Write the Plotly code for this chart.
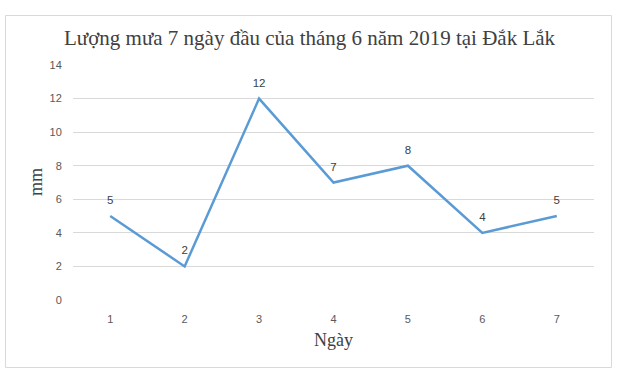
import plotly.graph_objects as go

days = ["1", "2", "3", "4", "5", "6", "7"]
rain_mm = [5, 2, 12, 7, 8, 4, 5]
y_ticks = [0, 2, 4, 6, 8, 10, 12, 14]
title_text = "Lượng mưa 7 ngày đầu của tháng 6 năm 2019 tại Đắk Lắk"
x_title = "Ngày"
y_title = "mm"

W, H = 641, 371
L, R, T, B = 73, 47, 65, 71
pw, ph = W - L - R, H - T - B

def px(x):
    return (x - L) / pw

def py(y):
    return (H - B - y) / ph

fig = go.Figure()
fig.add_trace(go.Scatter(
    x=days, y=rain_mm, mode="lines+markers+text",
    text=[str(v) for v in rain_mm], textposition="top center",
    textfont=dict(family="Liberation Sans", size=11.5, color="#404040"),
    line=dict(color="#5B9BD5", width=2.5),
    marker=dict(size=13, color="rgba(0,0,0,0)"),
    hoverinfo="x+y", showlegend=False, cliponaxis=False,
))

fig.update_layout(
    width=W, height=H,
    margin=dict(l=L, r=R, t=T, b=B),
    paper_bgcolor="white", plot_bgcolor="white",
    xaxis=dict(type="category", range=[-0.5, 6.5], showgrid=False, zeroline=False,
               showline=False, ticks="outside", ticklen=9, tickcolor="rgba(0,0,0,0)",
               tickfont=dict(family="Liberation Sans", size=11, color="#595959")),
    yaxis=dict(range=[0, 14], tickvals=y_ticks, showgrid=True, gridcolor="#D9D9D9",
               gridwidth=1, zeroline=False, showline=False, ticks="outside", ticklen=8,
               tickcolor="rgba(0,0,0,0)",
               tickfont=dict(family="Liberation Sans", size=11, color="#595959")),
    shapes=[dict(type="rect", xref="paper", yref="paper",
                 x0=px(5.5), x1=px(611.5), y0=py(367.5), y1=py(15.5),
                 line=dict(color="#D9D9D9", width=1), fillcolor="rgba(0,0,0,0)", layer="below")],
    annotations=[
        dict(text=title_text, xref="paper", yref="paper", x=px(310), y=py(38),
             xanchor="center", yanchor="middle", showarrow=False,
             font=dict(family="Liberation Serif", size=21, color="#404040")),
        dict(text=x_title, xref="paper", yref="paper", x=0.5, y=py(340),
             xanchor="center", yanchor="middle", showarrow=False,
             font=dict(family="Liberation Serif", size=18, color="#404040")),
        dict(text=y_title, xref="paper", yref="paper", x=px(36), y=py(182),
             xanchor="center", yanchor="middle", showarrow=False, textangle=-90,
             font=dict(family="Liberation Serif", size=18, color="#404040")),
    ],
)

fig.write_html("out.html")
